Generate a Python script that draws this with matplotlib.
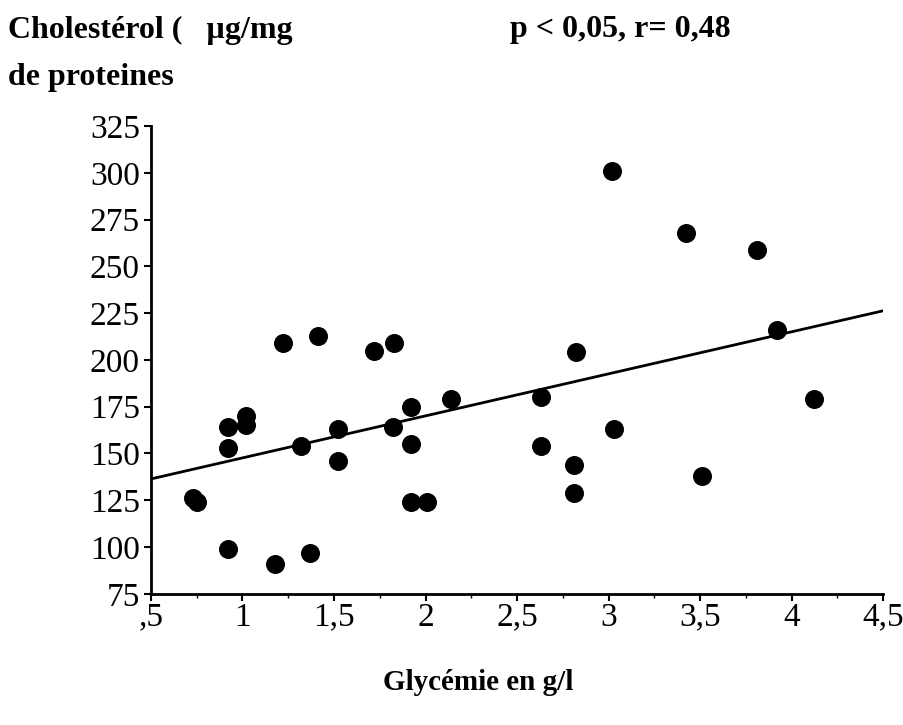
import matplotlib
matplotlib.use('Agg')
import matplotlib.pyplot as plt
from matplotlib.ticker import MultipleLocator
import numpy as np

plt.rcParams['font.family'] = ['Liberation Serif', 'DejaVu Serif']

# glycémie (g/l) et cholestérol (µg/mg de protéines)
glycemie = [0.73, 0.75, 0.92, 0.92, 0.92, 1.02, 1.02, 1.22, 1.41, 1.18, 1.37,
            1.32, 1.52, 1.52, 1.72, 1.83, 1.82, 1.92, 1.92, 1.92, 2.01, 2.14,
            3.02, 3.42, 3.81, 3.92, 2.82, 2.63, 2.63, 2.81, 2.81, 3.03, 3.51, 4.12]
cholesterol = [126, 124, 99, 164, 153, 170, 165, 209, 213, 91, 97,
               154, 163, 146, 205, 209, 164, 175, 155, 124, 124, 179,
               301, 268, 259, 216, 204, 180, 154, 144, 129, 163, 138, 179]

# droite de régression
line_x = [0.5, 4.5]
line_y = [136.4, 226.3]

xticks = [0.5, 1, 1.5, 2, 2.5, 3, 3.5, 4, 4.5]
xticklabels = [',5', '1', '1,5', '2', '2,5', '3', '3,5', '4', '4,5']
yticks = [75, 100, 125, 150, 175, 200, 225, 250, 275, 300, 325]

fig = plt.figure(figsize=(9.04, 7.25), dpi=100)
ax = fig.add_axes([0.167, 0.181, 0.810, 0.645])

ax.plot(line_x, line_y, color='black', linewidth=2)
ax.scatter(glycemie, cholesterol, s=160, color='black', zorder=3)

ax.set_xlim(0.5, 4.5)
ax.set_ylim(75, 325)
ax.set_xticks(xticks)
ax.set_xticklabels(xticklabels)
ax.set_yticks(yticks)
ax.xaxis.set_minor_locator(MultipleLocator(0.25))
ax.tick_params(axis='both', labelsize=24, width=1.5, length=5, direction='out')
ax.tick_params(axis='x', which='minor', length=3, width=1)
ax.tick_params(axis='x', pad=1)
ax.tick_params(axis='y', pad=3)

for side in ['top', 'right']:
    ax.spines[side].set_visible(False)
for side in ['left', 'bottom']:
    ax.spines[side].set_linewidth(2)

fig.text(8 / 904, 1 - 30 / 725, 'Cholestérol (   µg/mg', fontsize=23,
         fontweight='bold', ha='left', va='center')
fig.text(8 / 904, 1 - 78 / 725, 'de proteines', fontsize=23,
         fontweight='bold', ha='left', va='center')
fig.text(510 / 904, 1 - 30 / 725, 'p < 0,05, r= 0,48', fontsize=23,
         fontweight='bold', ha='left', va='center')
fig.text(478 / 904, 1 - 683 / 725, 'Glycémie en g/l', fontsize=21,
         fontweight='bold', ha='center', va='center')

fig.savefig('out.png', dpi=100)
